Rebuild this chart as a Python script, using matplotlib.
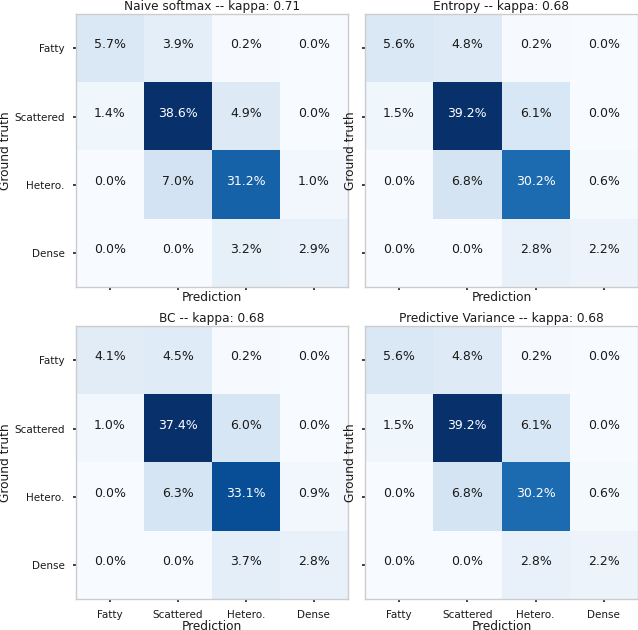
import numpy as np
import matplotlib
matplotlib.use('Agg')
import matplotlib.pyplot as plt

# Classes de densidade
classes = ['Fatty', 'Scattered', 'Hetero.', 'Dense']

# Matrizes de confusão (% do total)
naive = np.array([[5.7, 3.9, 0.2, 0.0],
                  [1.4, 38.6, 4.9, 0.0],
                  [0.0, 7.0, 31.2, 1.0],
                  [0.0, 0.0, 3.2, 2.9]])
entropy = np.array([[5.6, 4.8, 0.2, 0.0],
                    [1.5, 39.2, 6.1, 0.0],
                    [0.0, 6.8, 30.2, 0.6],
                    [0.0, 0.0, 2.8, 2.2]])
bc = np.array([[4.1, 4.5, 0.2, 0.0],
               [1.0, 37.4, 6.0, 0.0],
               [0.0, 6.3, 33.1, 0.9],
               [0.0, 0.0, 3.7, 2.8]])
pred_var = np.array([[5.6, 4.8, 0.2, 0.0],
                     [1.5, 39.2, 6.1, 0.0],
                     [0.0, 6.8, 30.2, 0.6],
                     [0.0, 0.0, 2.8, 2.2]])

titles = ['Naive softmax -- kappa: 0.71', 'Entropy -- kappa: 0.68',
          'BC -- kappa: 0.68', 'Predictive Variance -- kappa: 0.68']
matrices = [naive, entropy, bc, pred_var]

txt = '#1a1a1a'
fig = plt.figure(figsize=(6.38, 6.30), dpi=100)

# posições dos eixos [esq, baixo, larg, alt]
positions = [[0.119, 0.5444, 0.426, 0.433],
             [0.572, 0.5444, 0.428, 0.433],
             [0.119, 0.0492, 0.426, 0.433],
             [0.572, 0.0492, 0.428, 0.433]]

for i, (cm, title, pos) in enumerate(zip(matrices, titles, positions)):
    ax = fig.add_axes(pos)
    ax.imshow(cm, cmap='Blues', vmin=0, vmax=cm.max(), aspect='auto')
    thresh = cm.max() / 2
    for r in range(cm.shape[0]):
        for c in range(cm.shape[1]):
            ax.text(c, r - 0.05, f'{cm[r, c]:.1f}%', ha='center', va='center',
                    fontsize=9, color='white' if cm[r, c] > thresh else txt)
    ax.set_title(title, fontsize=8.7, color=txt, pad=3)
    ax.set_xticks(range(4))
    ax.set_yticks(range(4))
    ax.set_xticklabels(classes, fontsize=7.5, color=txt)
    ax.set_yticklabels(classes, fontsize=7.5, color=txt)
    ax.tick_params(length=2, width=1.2, color=txt, pad=6,
                   labelbottom=(i >= 2), labelleft=(i % 2 == 0))
    ax.set_xlabel('Prediction', fontsize=8.7, color=txt, labelpad=0 if i >= 2 else 1)
    ax.set_ylabel('Ground truth', fontsize=8.7, color=txt,
                  labelpad=2 if i % 2 == 0 else 4)
    for s in ax.spines.values():
        s.set_color('#cccccc')
        s.set_linewidth(1.0)

fig.savefig('out.png', dpi=100)
